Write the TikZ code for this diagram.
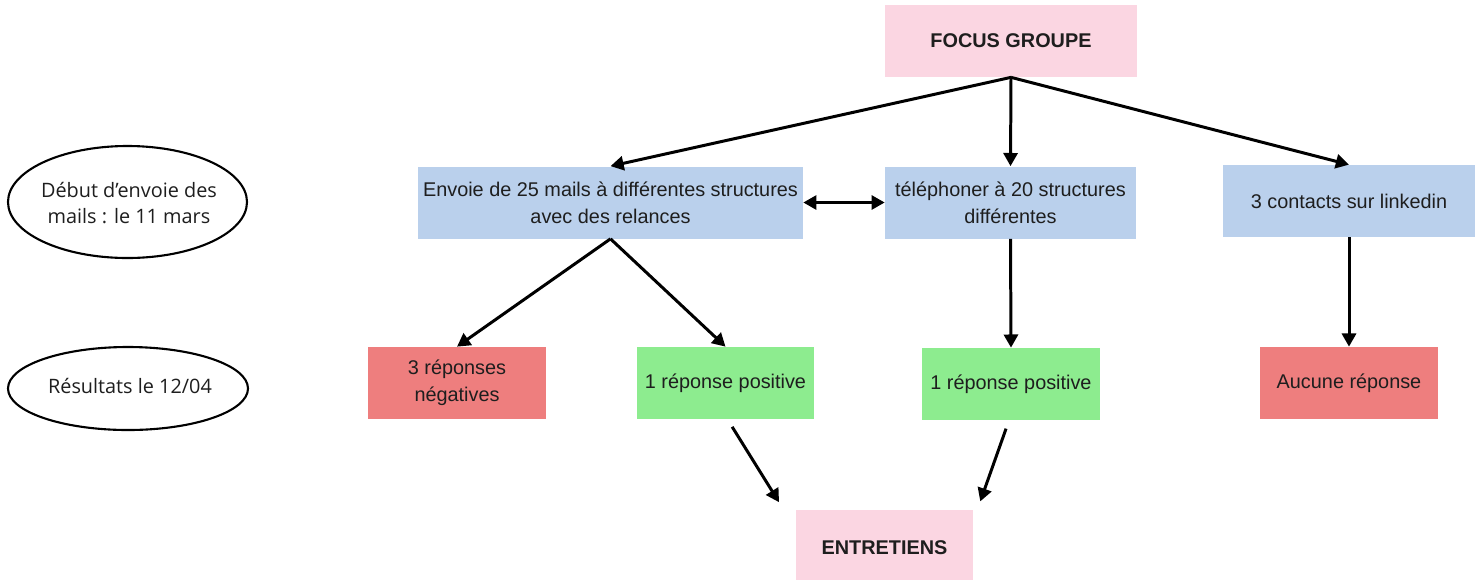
\documentclass[tikz,border=0pt]{standalone}
\usepackage{fontspec}
\setmainfont{Liberation Sans}
\newfontfamily\ovalfont{Open Sans}
\usetikzlibrary{arrows.meta,calc}
\definecolor{pinkbox}{HTML}{FBD6E2}
\definecolor{bluebox}{HTML}{BAD0EC}
\definecolor{redbox}{HTML}{EE7E7E}
\definecolor{greenbox}{HTML}{8DEC8F}
\definecolor{txt}{HTML}{1E1E1E}
\begin{document}
\begin{tikzpicture}[x=0.02cm,y=-0.02cm,
  every node/.style={font=\fontsize{11.3}{15.3}\selectfont, text=txt, align=center, inner sep=0pt},
  box/.style={rectangle, minimum height=1.44cm},
  bigbox/.style={box, minimum width=5.04cm, fill=pinkbox, font=\fontsize{11.3}{15.3}\selectfont\bfseries},
  midbox/.style={box, fill=bluebox},
  resbox/.style={box, minimum width=3.56cm},
  ovaltext/.style={font=\ovalfont\fontsize{11.3}{15.3}\selectfont},
  ovalline/.style={draw=black, line width=1.2pt},
  arr/.style={line width=1.7pt, -{Triangle[length=7.5pt,width=8pt]}},
  darr/.style={line width=1.7pt, {Triangle[length=7.5pt,width=8pt]}-{Triangle[length=7.5pt,width=8pt]}}
]
\useasboundingbox (0,0) rectangle (1481,579);
\fill[white] (0,0) rectangle (1481,579);

\node[bigbox] (focus) at (1011,41) {FOCUS GROUPE};
\node[midbox, minimum width=7.7cm] (mail) at (610.5,202.5) {Envoie de 25 mails à différentes structures\\avec des relances};
\node[midbox, minimum width=5.02cm] (tel) at (1010.5,202.5) {téléphoner à 20 structures\\différentes};
\node[midbox, minimum width=5.04cm] (lin) at (1349,201) {3 contacts sur linkedin};

\node[resbox, fill=redbox] (neg) at (457,383) {3 réponses\\négatives};
\node[resbox, fill=greenbox] (pos1) at (725.5,383) {1 réponse positive};
\node[resbox, fill=greenbox] (pos2) at (1011,384) {1 réponse positive};
\node[resbox, fill=redbox] (none) at (1349,383) {Aucune réponse};

\node[rectangle, fill=pinkbox, minimum width=3.54cm, minimum height=1.5cm, font=\fontsize{11.3}{15.3}\selectfont\bfseries] (ent) at (884.5,547.5) {ENTRETIENS};

\node[ovaltext] (debut) at (129,203) {Début d’envoie des\\mails : le 11 mars};
\draw[ovalline] ($(debut.center)+(-1.5,-1)$) ellipse [x radius=119.5, y radius=56];
\node[ovaltext] (resu) at (130,386) {Résultats le 12/04};
\draw[ovalline] ($(resu.center)+(-2,2.5)$) ellipse [x radius=120, y radius=41.5];

\draw[arr] (focus.south) -- (mail.north);
\draw[arr] (focus.south) -- (tel.north);
\draw[arr] (focus.south) -- (lin.north);
\draw[darr] (mail.east) -- (tel.west);
\draw[arr] (mail.south) -- (neg.north);
\draw[arr] (mail.south) -- (pos1.north);
\draw[arr] (tel.south) -- (pos2.north);
\draw[arr] (lin.south) -- (none.north);
\draw[arr, shorten <=5pt, shorten >=5pt] ($(pos1.south)+(2,0)$) -- ($(ent.north west)+(-12,0)$);
\draw[arr, shorten <=5pt, shorten >=5pt] ($(pos2.south)+(-2,0)$) -- ($(ent.north east)+(4,0)$);
\end{tikzpicture}
\end{document}
